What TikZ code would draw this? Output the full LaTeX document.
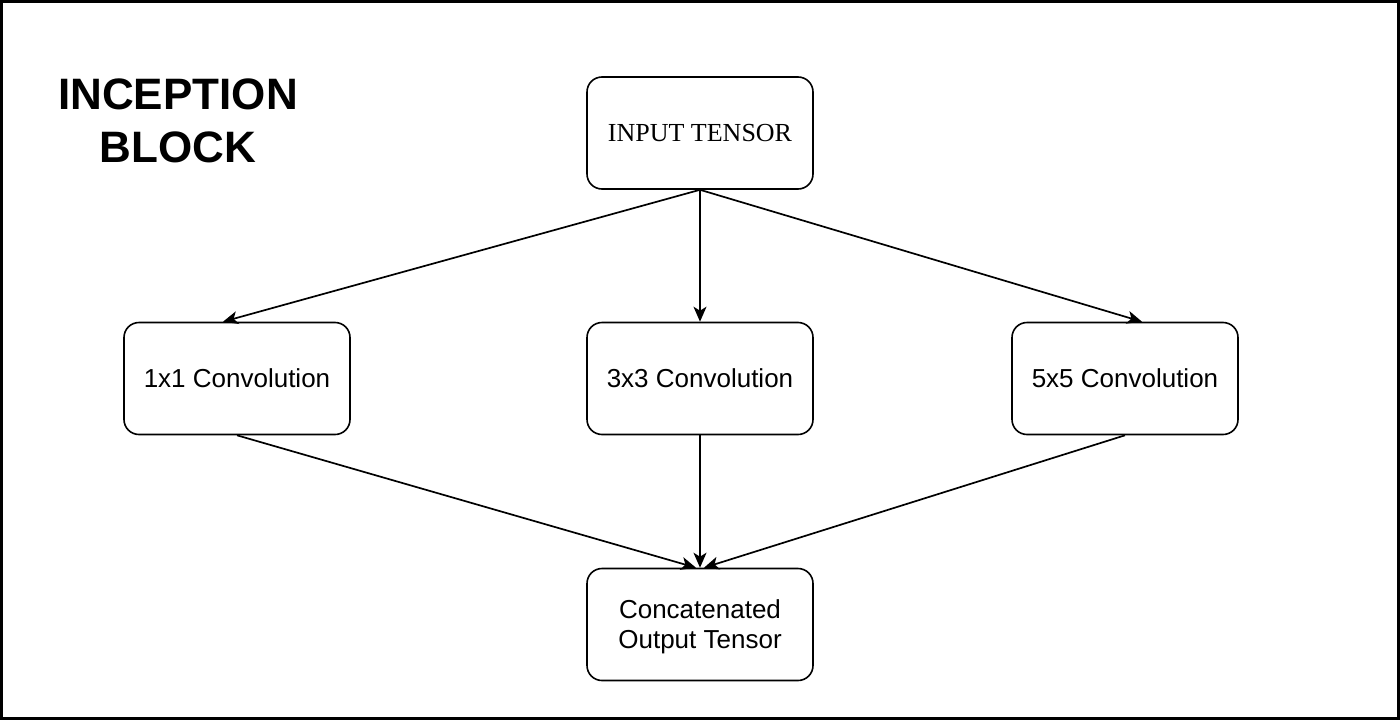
\documentclass[tikz,border=0pt]{standalone}
\usepackage{fontspec}
\setmainfont{Liberation Sans}
\newfontfamily\timesfont{Liberation Serif}
\usetikzlibrary{arrows.meta}

\begin{document}
\begin{tikzpicture}[x=1pt,y=-1pt,
    box/.style={draw,line width=1.6pt,rounded corners=15pt,minimum width=226pt,minimum height=112pt,
                align=center,font=\fontsize{26}{30}\selectfont},
    arr/.style={line width=1.7pt,-{Stealth[length=15pt,width=13pt,inset=4pt]}}]

            \useasboundingbox (0,0) rectangle (1400,720);
            \draw[line width=3pt] (1.5,1.5) rectangle (1398.5,718.5);

            \node[align=center,font=\fontsize{44}{53}\selectfont\bfseries] (title) at (178,121) {INCEPTION\\BLOCK};

            \node[box,font=\fontsize{26}{30}\selectfont\timesfont] (in) at (700,133) {INPUT TENSOR};
            \node[box] (c1) at (237,378.5) {1x1 Convolution};
            \node[box] (c3) at (700,378.5) {3x3 Convolution};
            \node[box] (c5) at (1125,378.5) {5x5 Convolution};
            \node[box,text depth=0pt] (out) at (700,624.5) {Concatenated\\Output Tensor};

            \draw[arr] (in.south)--([xshift=-14pt]c1.north);
            \draw[arr] (in.south)--(c3.north);
            \draw[arr] (in.south)--([xshift=17pt]c5.north);

            \draw[arr] (c1.south)--([xshift=-4pt]out.north);
            \draw[arr] (c3.south)--(out.north);
            \draw[arr] (c5.south)--([xshift=4pt]out.north);
        \end{tikzpicture}
\end{document}
